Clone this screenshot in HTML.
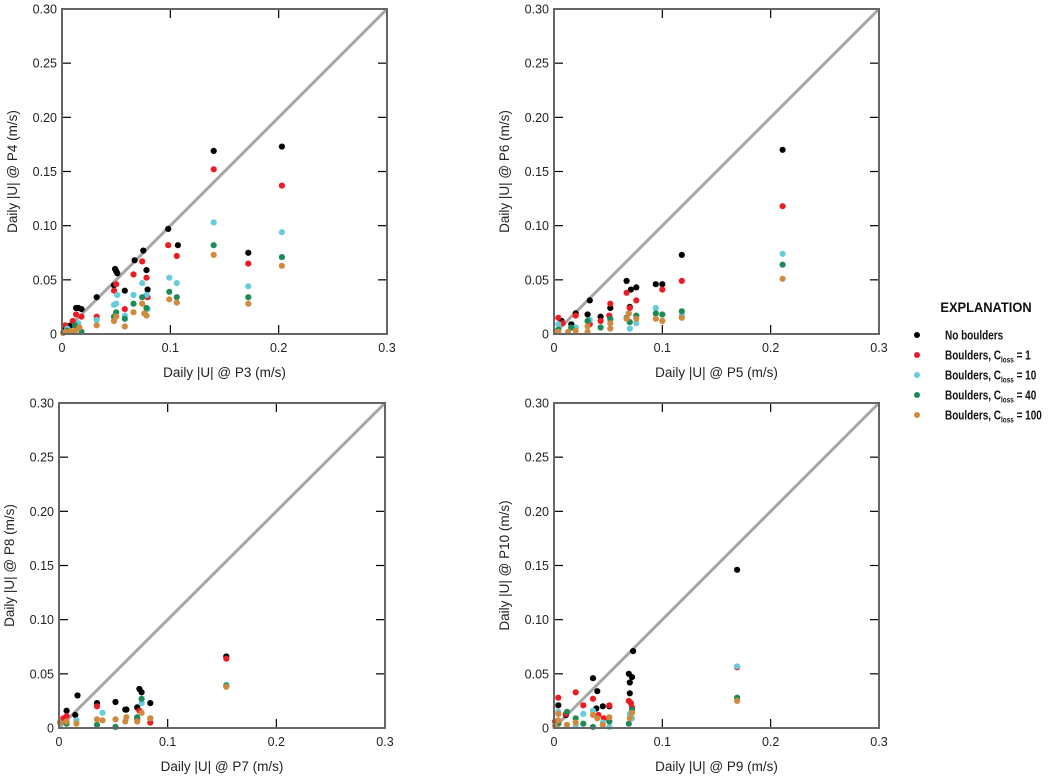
<!DOCTYPE html>
<html><head><meta charset="utf-8"><style>
html,body{margin:0;padding:0;background:#fff;}
svg{display:block;font-family:"Liberation Sans",sans-serif;}
.t{font-size:12.5px;fill:#222;}
.al{font-size:13.5px;fill:#222;}
.lg{font-size:12.5px;font-weight:bold;fill:#111;}
</style></head><body>
<svg id="s" width="1055" height="777" xmlns="http://www.w3.org/2000/svg"></svg>
<script>
const C={k:"#000000",r:"#ec1c24",c:"#67cbdb",g:"#1e8a57",o:"#cf8a3e"};
const P=[
{L:62,T:9,R:387,B:334,xl:"Daily |U| @ P3 (m/s)",yl:"Daily |U| @ P4 (m/s)",d:{
k:[[.14,.169],[.203,.173],[.098,.097],[.107,.082],[.075,.077],[.067,.068],[.049,.060],[.050,.058],[.051,.056],[.078,.059],[.058,.040],[.079,.041],[.032,.034],[.048,.045],[.013,.024],[.015,.024],[.018,.023],[.172,.075],[.003,.005],[.008,.008]],
r:[[.14,.152],[.203,.137],[.098,.082],[.106,.072],[.074,.067],[.066,.055],[.050,.046],[.078,.052],[.172,.065],[.048,.040],[.058,.023],[.032,.016],[.013,.018],[.018,.016],[.010,.012],[.003,.008],[.079,.034]],
c:[[.14,.103],[.203,.094],[.099,.052],[.106,.047],[.074,.047],[.066,.036],[.051,.036],[.048,.027],[.050,.028],[.078,.036],[.172,.044],[.058,.017],[.032,.013],[.015,.010],[.005,.005],[.079,.023]],
g:[[.14,.082],[.203,.071],[.099,.039],[.106,.034],[.074,.034],[.066,.028],[.050,.020],[.048,.016],[.172,.034],[.058,.014],[.078,.024],[.012,.008],[.018,.002],[.005,.003]],
o:[[.14,.073],[.203,.063],[.099,.032],[.106,.029],[.074,.028],[.066,.020],[.050,.016],[.048,.012],[.172,.028],[.058,.007],[.032,.008],[.078,.017],[.076,.019],[.003,.002],[.008,.003],[.012,.003],[.016,.006],[.001,.001]]}},
{L:554,T:9,R:879,B:334,xl:"Daily |U| @ P5 (m/s)",yl:"Daily |U| @ P6 (m/s)",d:{
k:[[.211,.170],[.118,.073],[.067,.049],[.071,.041],[.076,.043],[.094,.046],[.100,.046],[.033,.031],[.052,.024],[.043,.016],[.031,.018],[.020,.019],[.016,.009],[.070,.025],[.007,.012]],
r:[[.211,.118],[.118,.049],[.067,.038],[.076,.031],[.100,.041],[.052,.028],[.070,.024],[.043,.012],[.020,.017],[.033,.009],[.004,.015],[.008,.010],[.051,.017]],
c:[[.211,.074],[.118,.017],[.094,.024],[.052,.013],[.076,.010],[.070,.005],[.033,.013],[.020,.006],[.004,.009]],
g:[[.211,.064],[.118,.021],[.094,.019],[.100,.018],[.076,.017],[.067,.015],[.052,.014],[.043,.006],[.031,.012],[.016,.006],[.004,.004],[.070,.011]],
o:[[.211,.051],[.118,.015],[.094,.014],[.100,.012],[.076,.014],[.067,.014],[.069,.019],[.052,.010],[.052,.005],[.031,.007],[.031,.002],[.020,.003],[.004,.002],[.013,.002]]}},
{L:59,T:403,R:385,B:728,xl:"Daily |U| @ P7 (m/s)",yl:"Daily |U| @ P8 (m/s)",d:{
k:[[.154,.066],[.007,.016],[.017,.030],[.035,.023],[.052,.024],[.061,.017],[.062,.017],[.074,.036],[.076,.033],[.084,.023],[.072,.019],[.015,.012]],
r:[[.154,.064],[.035,.020],[.007,.011],[.074,.016],[.072,.008],[.084,.005],[.016,.007],[.004,.009]],
c:[[.154,.040],[.040,.014],[.052,.008],[.016,.007],[.076,.023],[.084,.009]],
g:[[.154,.039],[.076,.027],[.072,.010],[.007,.004],[.052,.001],[.035,.003],[.001,.005]],
o:[[.154,.038],[.035,.008],[.040,.007],[.052,.008],[.061,.006],[.062,.010],[.072,.006],[.076,.014],[.084,.009],[.007,.006],[.016,.004],[.001,.005]]}},
{L:554,T:403,R:879,B:728,xl:"Daily |U| @ P9 (m/s)",yl:"Daily |U| @ P10 (m/s)",d:{
k:[[.169,.146],[.073,.071],[.069,.050],[.072,.047],[.070,.042],[.070,.032],[.036,.046],[.040,.034],[.045,.020],[.051,.020],[.004,.021],[.039,.018],[.011,.012]],
r:[[.169,.056],[.004,.028],[.020,.033],[.036,.027],[.027,.021],[.051,.021],[.069,.025],[.071,.023],[.072,.019],[.041,.012],[.046,.009],[.011,.013],[.001,.006]],
c:[[.169,.057],[.027,.013],[.036,.016],[.070,.013],[.020,.002],[.004,.015],[.051,.001],[.045,.005],[.072,.009]],
g:[[.169,.028],[.012,.015],[.020,.009],[.027,.004],[.036,.001],[.051,.006],[.069,.004],[.072,.017],[.004,.004]],
o:[[.169,.025],[.004,.013],[.004,.007],[.012,.003],[.020,.005],[.036,.012],[.040,.009],[.045,.003],[.051,.010],[.070,.009],[.072,.014],[.001,.002]]}}
];
let h="";
for(const p of P){
 const sx=v=>p.L+(p.R-p.L)*v/0.3, sy=v=>p.B-(p.B-p.T)*v/0.3;
 h+=`<line x1="${p.L}" y1="${p.B}" x2="${p.R}" y2="${p.T}" stroke="#a6a6a6" stroke-width="3"/>`;
 for(let i=1;i<6;i++){const y=sy(i*0.05);
  h+=`<line x1="${p.L}" y1="${y}" x2="${p.L+9}" y2="${y}" stroke="#000" stroke-width="1.2"/><line x1="${p.R-9}" y1="${y}" x2="${p.R}" y2="${y}" stroke="#000" stroke-width="1.2"/>`;}
 for(let i=1;i<3;i++){const x=sx(i*0.1);
  h+=`<line x1="${x}" y1="${p.B}" x2="${x}" y2="${p.B-9}" stroke="#000" stroke-width="1.2"/><line x1="${x}" y1="${p.T}" x2="${x}" y2="${p.T+9}" stroke="#000" stroke-width="1.2"/>`;}
 for(const k of ["k","r","c","g","o"]) for(const [a,b] of p.d[k]) h+=`<circle cx="${sx(a).toFixed(1)}" cy="${sy(b).toFixed(1)}" r="3.1" fill="${C[k]}"/>`;
 h+=`<rect x="${p.L}" y="${p.T}" width="${p.R-p.L}" height="${p.B-p.T}" fill="none" stroke="#666" stroke-width="2"/>`;
 ["0","0.05","0.10","0.15","0.20","0.25","0.30"].forEach((t,i)=>{h+=`<text class="t" x="${p.L-5}" y="${sy(i*0.05)+4.5}" text-anchor="end">${t}</text>`;});
 ["0","0.1","0.2","0.3"].forEach((t,i)=>{h+=`<text class="t" x="${sx(i*0.1)}" y="${p.B+18}" text-anchor="middle">${t}</text>`;});
 h+=`<text class="al" x="${(p.L+p.R)/2}" y="${p.B+43}" text-anchor="middle">${p.xl}</text>`;
 const cy=(p.T+p.B)/2;
 h+=`<text class="al" x="${p.L-45}" y="${cy}" text-anchor="middle" transform="rotate(-90 ${p.L-45} ${cy})">${p.yl}</text>`;
}
h+=`<g transform="translate(986,312) scale(0.92,1)"><text x="0" y="0" text-anchor="middle" style="font-size:14px;font-weight:bold;fill:#111">EXPLANATION</text></g>`;
const L=[["k","No boulders",""],["r","Boulders, C","= 1"],["c","Boulders, C","= 10"],["g","Boulders, C","= 40"],["o","Boulders, C","= 100"]];
L.forEach((e,i)=>{const y=335+i*20;
 h+=`<circle cx="917" cy="${y}" r="3" fill="${C[e[0]]}"/>`;
 h+=`<g transform="translate(945,${y+4.5}) scale(0.8,1)">`;
 if(e[2]) h+=`<text class="lg" x="0" y="0">${e[1]}<tspan font-size="8" dy="3">loss</tspan><tspan dy="-3"> ${e[2]}</tspan></text>`;
 else h+=`<text class="lg" x="0" y="0">${e[1]}</text>`;
 h+=`</g>`;
});
document.getElementById("s").innerHTML=h;
</script>
</body></html>
